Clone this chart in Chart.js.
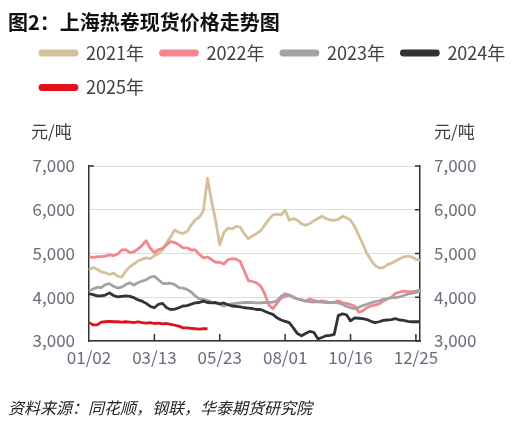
<!DOCTYPE html>
<html>
<head>
<meta charset="utf-8">
<script src="https://cdn.jsdelivr.net/npm/chart.js@4/dist/chart.umd.min.js"></script>
<style>
  html, body { margin: 0; padding: 0; background: #fff; }
  #wrap { width: 519px; height: 426px; position: relative; }
</style>
</head>
<body>
<div id="wrap"><canvas id="steelChart"></canvas></div>
<script>
// Подписи оси X (каждые 16 точек)
const tickLabels = ['01/02', '03/13', '05/23', '08/01', '10/16', '12/25'];
const seriesNames = ['2021年', '2022年', '2023年', '2024年', '2025年'];
const seriesColors = ['#D4C09A', '#F4868D', '#A3A3A6', '#333333', '#E0101C'];

// Цены, юань/тонна
const price2021 = [
  4620, 4680, 4640, 4580, 4560, 4520, 4550, 4480, 4460, 4600,
  4700, 4760, 4830, 4870, 4900, 4880, 4950, 5000, 5080, 5250,
  5380, 5540, 5480, 5460, 5500, 5650, 5770, 5830, 5980, 6720,
  6200, 5750, 5200, 5480, 5580, 5560, 5620, 5600, 5450, 5340,
  5400, 5460, 5520, 5650, 5780, 5880, 5900, 5880, 5990, 5760,
  5800, 5760, 5680, 5650, 5680, 5750, 5800, 5850, 5800, 5770,
  5760, 5780, 5850, 5820, 5760, 5620, 5420, 5220, 5000, 4850,
  4730, 4670, 4680, 4740, 4780, 4830, 4880, 4920, 4940, 4920,
  4870, 4840
];
const price2022 = [
  4920, 4910, 4930, 4930, 4940, 4970, 4950, 4990, 5080, 5090,
  5020, 5040, 5100, 5190, 5290, 5120, 5020, 5090, 5120, 5200,
  5270, 5250, 5200, 5130, 5130, 5080, 5080, 4980, 4900, 4920,
  4860, 4800, 4800, 4760, 4860, 4880, 4870, 4820, 4600, 4380,
  4360, 4330, 4260, 4080, 3820, 3740, 3860, 3980, 4020, 4050,
  4010, 3960, 3940, 3910, 3960, 3930, 3900, 3920, 3900, 3870,
  3890, 3920, 3880, 3860, 3830, 3800, 3660, 3690, 3760, 3800,
  3820, 3850, 3910, 3960, 4000, 4090, 4120, 4140, 4130, 4130,
  4140, 4170
];
const price2023 = [
  4140, 4190, 4230, 4220, 4290, 4310, 4250, 4210, 4230, 4290,
  4330, 4280, 4330, 4370, 4400, 4460, 4480, 4400, 4320, 4310,
  4320, 4290, 4220, 4210, 4180, 4120, 4030, 3960, 3950, 3930,
  3890, 3860, 3840, 3800, 3830, 3850, 3860, 3870, 3880, 3880,
  3880, 3870, 3870, 3880, 3880, 3890, 3920, 4020, 4080, 4050,
  3990, 3960, 3940, 3910, 3900, 3890, 3900, 3890, 3880, 3880,
  3880, 3870, 3840, 3790, 3760, 3740, 3770, 3810, 3840, 3870,
  3900, 3920, 3950, 3970, 3990, 3990, 4010, 4040, 4070, 4090,
  4110, 4140
];
const price2024 = [
  4080, 4060, 4030, 4030, 4050, 4100, 4040, 4010, 4020, 4030,
  4020, 3990, 3940, 3910, 3860, 3790, 3760, 3840, 3860, 3760,
  3720, 3730, 3760, 3800, 3810, 3840, 3870, 3880, 3910, 3880,
  3870, 3880, 3850, 3870, 3830, 3800, 3790, 3780, 3760, 3750,
  3740, 3720, 3720, 3680, 3640, 3610, 3530, 3480, 3450, 3420,
  3300, 3170, 3120, 3170, 3220, 3200, 3050, 3080, 3120, 3130,
  3150, 3580, 3620, 3600, 3460, 3530, 3520, 3510, 3490, 3450,
  3420, 3440, 3470, 3480, 3490, 3510, 3480, 3470, 3450, 3440,
  3440, 3440
];
const price2025 = [
  3420, 3370, 3370, 3430, 3440, 3450, 3440, 3440, 3430, 3440,
  3430, 3420, 3440, 3420, 3410, 3420, 3400, 3410, 3390, 3400,
  3380, 3360, 3340, 3300, 3300, 3290, 3280, 3270, 3280, 3280
];
const yTicks = [3000, 4000, 5000, 6000, 7000];

const TICK_EVERY = 16;
const labels = price2021.map((_, i) => (i % TICK_EVERY === 0 ? tickLabels[i / TICK_EVERY] || '' : ''));
const allSeries = [price2021, price2022, price2023, price2024, price2025];

const FONT = '"Noto Sans CJK SC", "Noto Sans", sans-serif';

// Заголовок, единицы и источник
const textPlugin = {
  id: 'texts',
  afterDraw(chart) {
    const ctx = chart.ctx;
    const area = chart.chartArea;
    ctx.save();
    ctx.textBaseline = 'middle';
    ctx.textAlign = 'left';
    ctx.fillStyle = '#111';
    ctx.font = 'bold 20px ' + FONT;
    ctx.fillText('图2：上海热卷现货价格走势图', 8, 22);
    ctx.fillStyle = '#404040';
    ctx.font = '17px ' + FONT;
    ctx.fillText('元/吨', 31, 132);
    ctx.fillText('元/吨', area.right + 14, 132);
    ctx.fillStyle = '#222';
    ctx.font = 'italic 16px ' + FONT;
    ctx.fillText('资料来源：同花顺，钢联，华泰期货研究院', 8, 408);
    ctx.restore();
  }
};

// Внутренние засечки на осях
const tickMarkPlugin = {
  id: 'tickMarks',
  afterDatasetsDraw(chart) {
    const ctx = chart.ctx;
    const area = chart.chartArea;
    const x = chart.scales.x;
    const y2 = chart.scales.y2;
    const y = chart.scales.y;
    ctx.save();
    ctx.strokeStyle = '#333';
    ctx.lineWidth = 1.5;
    ctx.beginPath();
    labels.forEach((l, i) => {
      if (l && i > 0) {
        const px = x.getPixelForValue(i);
        ctx.moveTo(px, area.bottom);
        ctx.lineTo(px, area.bottom - 7);
      }
    });
    yTicks.forEach(v => {
      const py = y2.getPixelForValue(v);
      ctx.moveTo(area.right, py);
      ctx.lineTo(area.right - 5, py);
    });
    const top = y.getPixelForValue(yTicks[yTicks.length - 1]);
    ctx.moveTo(area.left, top);
    ctx.lineTo(area.left + 5, top);
    ctx.stroke();
    ctx.restore();
  }
};

const datasets = allSeries.map((data, i) => ({
  label: seriesNames[i],
  data: data,
  borderColor: seriesColors[i],
  backgroundColor: seriesColors[i],
  borderWidth: 2.8,
  pointRadius: 0,
  tension: 0,
  borderJoinStyle: 'round',
  order: allSeries.length - i
}));

const tickFont = { family: FONT, size: 17 };
const tickColor = '#6b6b7b';

new Chart(document.getElementById('steelChart'), {
  type: 'line',
  data: { labels: labels, datasets: datasets },
  options: {
    responsive: true,
    maintainAspectRatio: false,
    animation: false,
    layout: { padding: { top: 27.5, left: 23.5, right: -20, bottom: 55 } },
    plugins: {
      title: { display: false },
      tooltip: { enabled: false },
      legend: {
        position: 'top',
        align: 'start',
        labels: {
          font: { family: FONT, size: 18 },
          color: '#404040',
          boxWidth: 37,
          boxHeight: 4,
          useBorderRadius: true,
          borderRadius: 2,
          padding: 16.5,
          sort: (a, b) => a.datasetIndex - b.datasetIndex
        }
      }
    },
    scales: {
      x: {
        type: 'category',
        position: 'bottom',
        grid: { drawOnChartArea: false, drawTicks: false },
        border: { display: true, color: '#333', width: 1.5 },
        ticks: {
          autoSkip: false,
          maxRotation: 0,
          padding: 6,
          font: tickFont,
          color: tickColor,
          callback: function (value) { return labels[value]; }
        },
        afterFit: s => { s.height = 30; }
      },
      xTop: {
        type: 'category',
        position: 'top',
        grid: { display: false, drawTicks: false },
        border: { display: false },
        ticks: { display: false },
        afterFit: s => { s.height = 59.5; }
      },
      y: {
        position: 'left',
        min: 3000,
        max: 7000,
        grid: { color: '#D9DDEA', lineWidth: 1, drawTicks: false },
        border: { display: true, color: '#333', width: 1.5 },
        ticks: {
          stepSize: 1000,
          padding: 14,
          font: tickFont,
          color: tickColor,
          callback: v => v.toLocaleString('en-US')
        },
        afterFit: s => { s.width = 65.5; }
      },
      y2: {
        position: 'right',
        min: 3000,
        max: 7000,
        grid: { drawOnChartArea: false, drawTicks: false },
        border: { display: true, color: '#333', width: 1.5 },
        ticks: {
          stepSize: 1000,
          padding: 14,
          font: tickFont,
          color: tickColor,
          callback: v => v.toLocaleString('en-US')
        },
        afterFit: s => { s.width = 119; }
      }
    }
  },
  plugins: [textPlugin, tickMarkPlugin]
});
</script>
</body>
</html>
